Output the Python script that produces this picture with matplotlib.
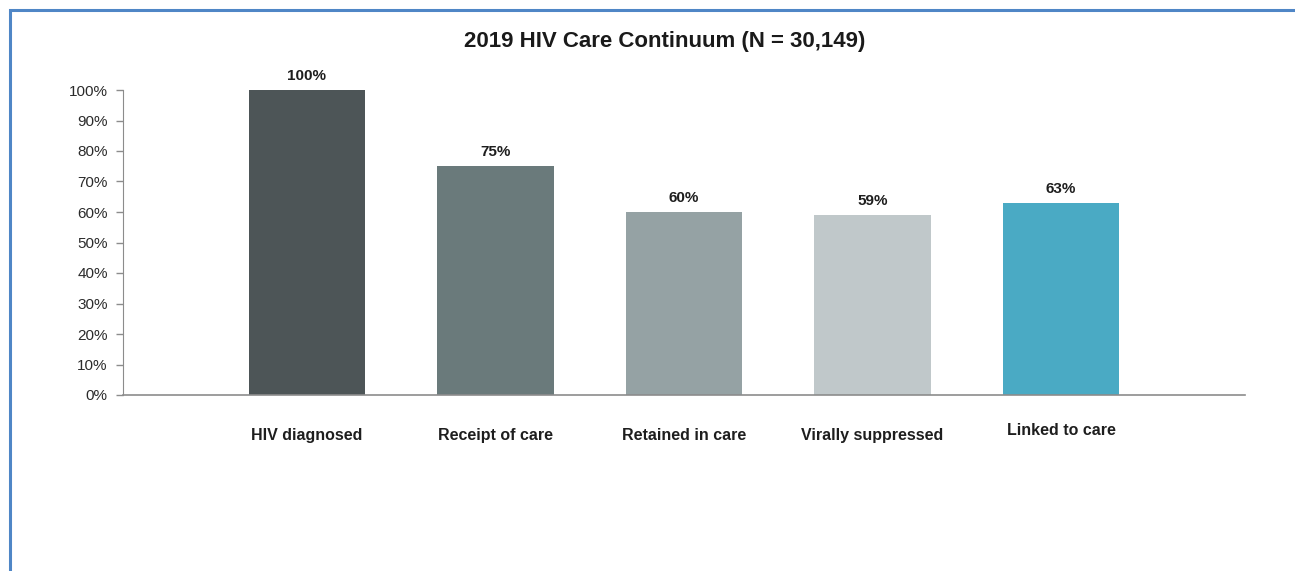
import matplotlib
matplotlib.use('Agg')
import matplotlib.pyplot as plt
from matplotlib.patches import Rectangle
from matplotlib.ticker import MultipleLocator, PercentFormatter

# Dados do contínuo de cuidado
etapas = ['HIV diagnosed', 'Receipt of care', 'Retained in care',
          'Virally suppressed', 'Linked to care']
percentuais = [100, 75, 60, 59, 63]
cores = ['#4d5557', '#6a7a7b', '#95a2a4', '#c0c8ca', '#4aaac4']
titulo = '2019 HIV Care Continuum (N = 30,149)'

plt.rcParams['font.family'] = ['Liberation Sans', 'DejaVu Sans']

fig = plt.figure(figsize=(12.95, 5.71), dpi=100)
ax = fig.add_axes([123 / 1295, 176 / 571, 1122 / 1295, 305 / 571])

# Moldura azul ao redor do gráfico
fig.add_artist(Rectangle((10 / 1295, -0.1), 1.2, 1.1 - 10 / 571,
                         transform=fig.transFigure, fill=False,
                         edgecolor='#4f86c6', linewidth=2.2))

x = range(len(etapas))
barras = ax.bar(x, percentuais, width=0.62, color=cores, clip_on=False)

# Rótulos de valor acima das barras
for b, v in zip(barras, percentuais):
    ax.annotate(f'{v}%', (b.get_x() + b.get_width() / 2, v),
                xytext=(0, 5), textcoords='offset points',
                ha='center', va='bottom', fontsize=11, fontweight='bold',
                color='#1e1e1e')

ax.set_xlim(-0.976, 4.976)
ax.set_ylim(0, 100)
ax.yaxis.set_major_locator(MultipleLocator(10))
ax.yaxis.set_major_formatter(PercentFormatter(decimals=0))
ax.tick_params(axis='y', labelsize=11, colors='#2b2b2b', length=5,
               width=1, color='#8c8c8c', pad=6)

ax.set_xticks(list(x))
ax.set_xticklabels(etapas, fontsize=11.5, fontweight='bold', color='#1e1e1e')
ax.tick_params(axis='x', length=0, pad=24)
# último rótulo um pouco mais alto
ax.xaxis.get_major_ticks()[-1].label1.set_y(0.016)

for lado in ['top', 'right']:
    ax.spines[lado].set_visible(False)
ax.spines['left'].set_color('#8c8c8c')
ax.spines['bottom'].set_color('#8c8c8c')
ax.spines['bottom'].set_linewidth(1.2)

fig.text(665 / 1295, 1 - 42 / 571, titulo, ha='center', va='center',
         fontsize=16, fontweight='bold', color='#1a1a1a')

fig.savefig('out.png', dpi=100)
